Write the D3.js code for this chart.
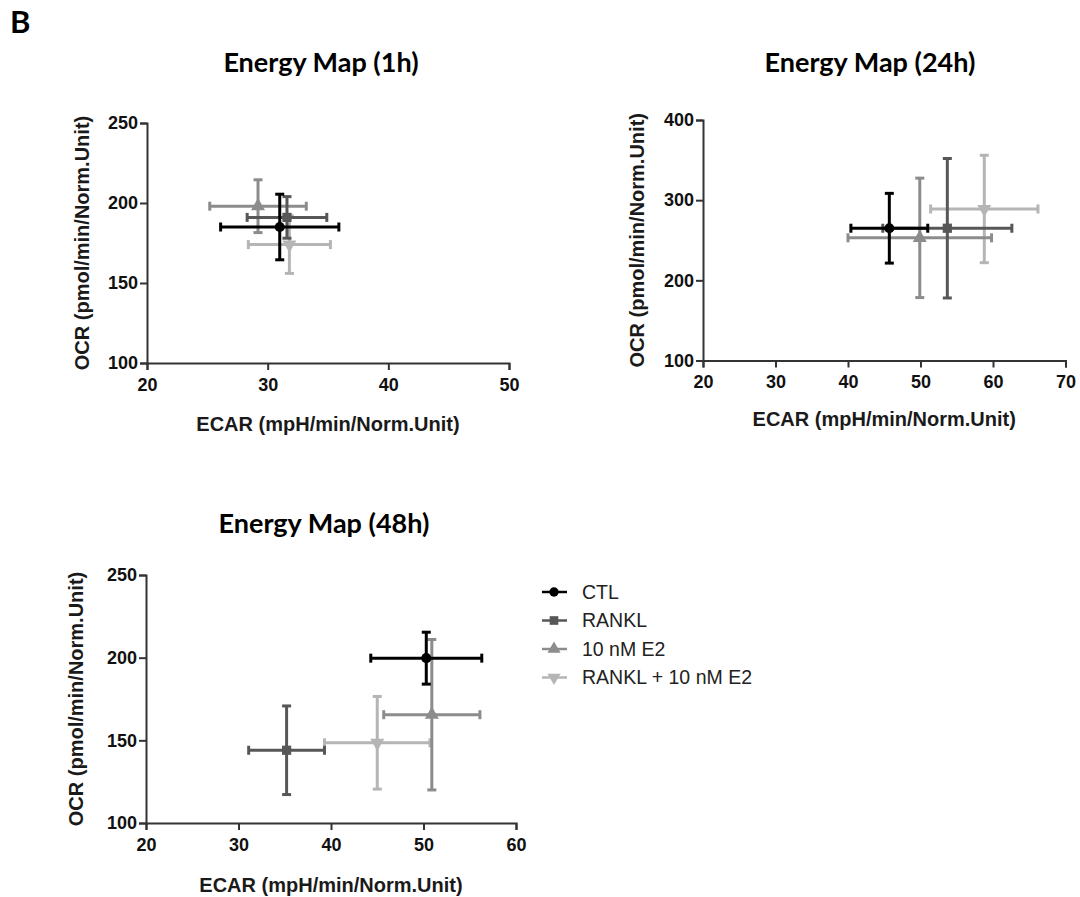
<!DOCTYPE html>
<html>
<head>
<meta charset="utf-8">
<script src="https://cdnjs.cloudflare.com/ajax/libs/d3/7.8.5/d3.min.js"></script>
<style>
  body { margin: 0; background: #fff; }
  svg { display: block; }
  .tick text { font-family: "Liberation Sans", Arial, sans-serif; font-weight: bold; font-size: 18px; fill: #111; }
  .axis-title { font-family: "Liberation Sans", Arial, sans-serif; font-weight: bold; font-size: 20px; fill: #1a1a1a; }
  .panel-title { font-family: Lato, "Open Sans", sans-serif; font-weight: bold; font-size: 27px; fill: #000; }
  .legend-text { font-family: "Liberation Sans", Arial, sans-serif; font-size: 19.5px; fill: #222; }
</style>
</head>
<body>
<div class="chart"></div>
<script>
// series (same order in every panel)
var groups = ["CTL", "RANKL", "10 nM E2", "RANKL + 10 nM E2"];

// 1h
var ecar1 = [31.0, 31.6, 29.2, 31.8];
var ecarErr1 = [4.9, 3.3, 4.0, 3.4];
var ocr1 = [185, 191, 198, 174];
var ocrErr1 = [20.5, 13, 16.5, 18];

// 24h
var ecar24 = [45.7, 53.7, 49.9, 58.8];
var ecarErr24 = [5.3, 8.9, 9.9, 7.4];
var ocr24 = [265, 265, 253, 289];
var ocrErr24 = [43.5, 87, 74.5, 67];

// 48h
var ecar48 = [50.3, 35.2, 50.9, 45.0];
var ecarErr48 = [6.0, 4.1, 5.2, 5.7];
var ocr48 = [199.7, 144, 165.5, 148.5];
var ocrErr48 = [15.7, 26.8, 45.5, 28];

// tick values
var xTicks1 = [20, 30, 40, 50];
var yTicks1 = [100, 150, 200, 250];
var xTicks24 = [20, 30, 40, 50, 60, 70];
var yTicks24 = [100, 200, 300, 400];
var xTicks48 = [20, 30, 40, 50, 60];
var yTicks48 = [100, 150, 200, 250];

var colors = ["#000000", "#575757", "#8c8c8c", "#b5b5b5"];
var symbols = [d3.symbolCircle, d3.symbolSquare, d3.symbolTriangle, d3.symbolTriangle];

var svg = d3.select(".chart")
  .append("svg")
  .attr("width", 1080)
  .attr("height", 897);

// panel letter
svg.append("text")
  .attr("x", 10)
  .attr("y", 33)
  .attr("class", "panel-title")
  .style("font-size", "31px")
  .text("B");

// draws one energy map panel
function drawPanel(opt) {
  var x = d3.scaleLinear()
    .domain([opt.xTicks[0], opt.xTicks[opt.xTicks.length - 1]])
    .range([opt.left, opt.right]);

  var y = d3.scaleLinear()
    .domain([opt.yTicks[0], opt.yTicks[opt.yTicks.length - 1]])
    .range([opt.bottom, opt.top]);

  var g = svg.append("g");

  // axes
  var xAxis = g.append("g")
    .attr("transform", `translate(0, ${opt.bottom})`)
    .call(d3.axisBottom(x).tickValues(opt.xTicks).tickSizeOuter(0).tickSize(7).tickPadding(8));

  var yAxis = g.append("g")
    .attr("transform", `translate(${opt.left}, 0)`)
    .call(d3.axisLeft(y).tickValues(opt.yTicks).tickSizeOuter(0).tickSize(7).tickPadding(2));

  [xAxis, yAxis].forEach(function(a) {
    a.select(".domain").attr("stroke", "#333").attr("stroke-width", 2);
    a.selectAll(".tick line").attr("stroke", "#333").attr("stroke-width", 2);
  });

  // axis titles
  g.append("text")
    .attr("class", "axis-title")
    .attr("x", (opt.left + opt.right) / 2)
    .attr("y", opt.xTitleY)
    .attr("text-anchor", "middle")
    .text("ECAR (mpH/min/Norm.Unit)");

  g.append("text")
    .attr("class", "axis-title")
    .attr("transform", `translate(${opt.yTitleX}, ${(opt.top + opt.bottom) / 2}) rotate(-90)`)
    .attr("text-anchor", "middle")
    .attr("dy", "0.35em")
    .text("OCR (pmol/min/Norm.Unit)");

  // title
  g.append("text")
    .attr("class", "panel-title")
    .attr("x", opt.titleX)
    .attr("y", opt.titleY)
    .attr("text-anchor", "middle")
    .text(opt.title);

  // points, drawn from last series to first so CTL ends on top
  var cap = 4.5;
  for (var i = groups.length - 1; i >= 0; i--) {
    var cx = x(opt.ecar[i]);
    var cy = y(opt.ocr[i]);
    var x0 = x(opt.ecar[i] - opt.ecarErr[i]);
    var x1 = x(opt.ecar[i] + opt.ecarErr[i]);
    var y0 = y(opt.ocr[i] - opt.ocrErr[i]);
    var y1 = y(opt.ocr[i] + opt.ocrErr[i]);
    var pg = g.append("g")
      .attr("stroke", colors[i])
      .attr("stroke-width", 3)
      .attr("fill", "none");

    pg.append("line").attr("x1", x0).attr("x2", x1).attr("y1", cy).attr("y2", cy);
    pg.append("line").attr("x1", x0).attr("x2", x0).attr("y1", cy - cap).attr("y2", cy + cap);
    pg.append("line").attr("x1", x1).attr("x2", x1).attr("y1", cy - cap).attr("y2", cy + cap);
    pg.append("line").attr("x1", cx).attr("x2", cx).attr("y1", y0).attr("y2", y1);
    pg.append("line").attr("x1", cx - cap).attr("x2", cx + cap).attr("y1", y0).attr("y2", y0);
    pg.append("line").attr("x1", cx - cap).attr("x2", cx + cap).attr("y1", y1).attr("y2", y1);

    g.append("path")
      .attr("d", d3.symbol().type(symbols[i]).size(i === 0 ? 80 : 85)())
      .attr("transform", `translate(${cx}, ${cy})` + (i === 3 ? " rotate(180)" : ""))
      .attr("fill", colors[i]);
  }
}

drawPanel({
  title: "Energy Map (1h)", titleX: 321, titleY: 72,
  left: 147, right: 509, top: 123, bottom: 363,
  xTicks: xTicks1, yTicks: yTicks1,
  ecar: ecar1, ecarErr: ecarErr1, ocr: ocr1, ocrErr: ocrErr1,
  xTitleY: 431, yTitleX: 82
});

drawPanel({
  title: "Energy Map (24h)", titleX: 870, titleY: 72,
  left: 703, right: 1065.5, top: 120, bottom: 360.5,
  xTicks: xTicks24, yTicks: yTicks24,
  ecar: ecar24, ecarErr: ecarErr24, ocr: ocr24, ocrErr: ocrErr24,
  xTitleY: 426, yTitleX: 637
});

drawPanel({
  title: "Energy Map (48h)", titleX: 324, titleY: 533,
  left: 146, right: 516, top: 575, bottom: 823,
  xTicks: xTicks48, yTicks: yTicks48,
  ecar: ecar48, ecarErr: ecarErr48, ocr: ocr48, ocrErr: ocrErr48,
  xTitleY: 892, yTitleX: 76
});

// legend
var legend = svg.append("g")
  .attr("transform", "translate(542, 592)");

var rows = legend.selectAll("g")
  .data(groups)
  .enter()
  .append("g")
  .attr("transform", (d, i) => `translate(0, ${i * 28.5})`);

rows.append("line")
  .attr("x1", 0)
  .attr("x2", 25)
  .attr("stroke", (d, i) => colors[i])
  .attr("stroke-width", 2.5);

rows.append("path")
  .attr("d", (d, i) => d3.symbol().type(symbols[i]).size(i === 0 ? 70 : 75)())
  .attr("transform", (d, i) => "translate(12, 0)" + (i === 3 ? " rotate(180)" : ""))
  .attr("fill", (d, i) => colors[i]);

rows.append("text")
  .attr("class", "legend-text")
  .attr("x", 40)
  .attr("dy", "0.35em")
  .text(d => d);
</script>
</body>
</html>
